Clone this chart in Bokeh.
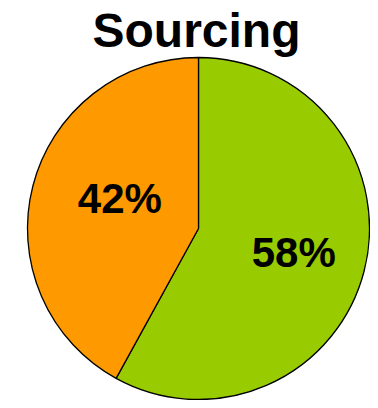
import math
from bokeh.plotting import figure
from bokeh.models import ColumnDataSource, Range1d
from bokeh.core.properties import value
from bokeh.embed import file_html
from bokeh.resources import INLINE

title_text = "Sourcing"
categories = ["Green", "Orange"]
shares = [58, 42]
colors = ["#99CC00", "#FF9900"]

# layout (pixels)
W, H = 370, 400
cx, cy = 198, H - 228
R = 171
label_radius = [0.575, 0.475]
label_nudge_y = [0, 10]

total = sum(shares)
starts, ends, lx, ly, labels = [], [], [], [], []
acc = 0.0
for s, lr, nd in zip(shares, label_radius, label_nudge_y):
    a0 = math.pi / 2 - 2 * math.pi * acc / total
    a1 = math.pi / 2 - 2 * math.pi * (acc + s) / total
    starts.append(a0)
    ends.append(a1)
    mid = (a0 + a1) / 2
    lx.append(cx + lr * R * math.cos(mid))
    ly.append(cy + lr * R * math.sin(mid) + nd)
    labels.append(f"{round(100 * s / total)}%")
    acc += s

src = ColumnDataSource(dict(cat=categories, start=starts, end=ends, color=colors,
                            lx=lx, ly=ly, label=labels))

p = figure(width=W, height=H, output_backend="svg", toolbar_location=None,
           x_range=Range1d(0, W), y_range=Range1d(0, H), min_border=0)
p.axis.visible = False
p.grid.visible = False
p.outline_line_color = None
p.background_fill_color = "white"
p.border_fill_color = "white"

p.wedge(x=cx, y=cy, radius=R, radius_units="screen", start_angle="start", end_angle="end",
        direction="clock", fill_color="color", line_color="black", line_width=1.3, source=src)

p.text(x="lx", y="ly", text="label", source=src, text_font=value("Liberation Sans"),
       text_font_style="bold", text_font_size="42px", text_align="center",
       text_baseline="middle", text_color="black")

p.text(x=[196], y=[H - 30], text=[title_text], text_font=value("Liberation Sans"),
       text_font_style="bold", text_font_size="48px", text_align="center",
       text_baseline="alphabetic", text_color="black")

open("out.html", "w").write(file_html(p, INLINE))
